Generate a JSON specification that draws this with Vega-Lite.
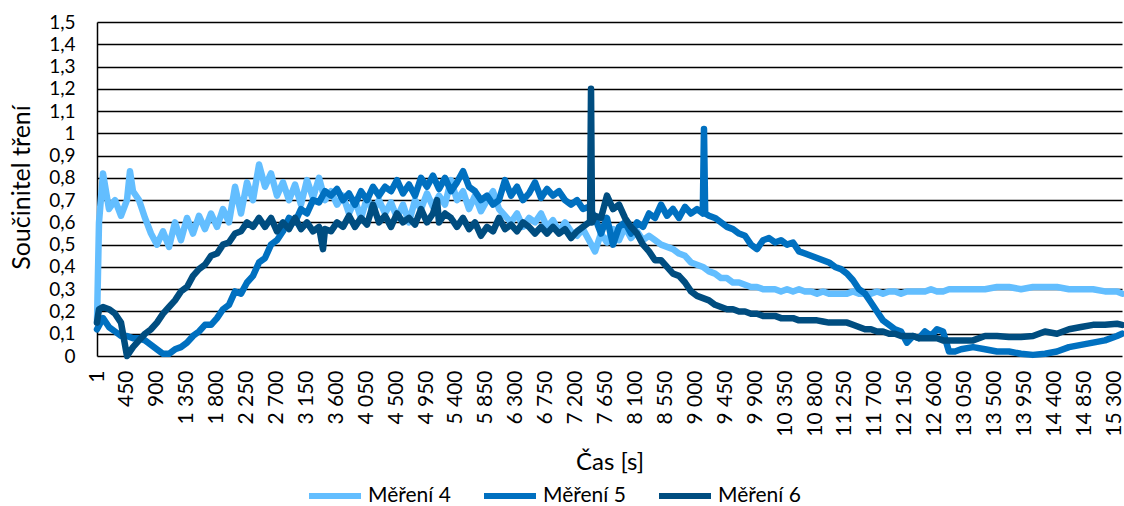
{
  "$schema": "https://vega.github.io/schema/vega-lite/v6.json",
  "width": 1025,
  "height": 334,
  "autosize": {"type": "none"},
  "padding": {"left": 97, "top": 22, "right": 2, "bottom": 150},
  "background": "white",
  "config": {"view": {"stroke": null}, "font": "Lato"},
  "data": {"values": [
    {"t":1,"a":0.15,"b":0.12,"c":0.15},
    {"t":31,"a":0.6,"c":0.21},
    {"t":91,"a":0.82,"b":0.17,"c":0.22},
    {"t":181,"a":0.66,"b":0.13,"c":0.21},
    {"t":272,"a":0.70,"b":0.11,"c":0.19},
    {"t":362,"a":0.63,"b":0.09,"c":0.15},
    {"t":452,"a":0.70,"b":0.09,"c":0.00},
    {"t":497,"a":0.83},
    {"t":542,"a":0.74,"b":0.08,"c":0.04},
    {"t":633,"a":0.70,"b":0.08,"c":0.07},
    {"t":723,"a":0.62,"b":0.07,"c":0.10},
    {"t":813,"a":0.55,"b":0.05,"c":0.12},
    {"t":903,"a":0.50,"b":0.03,"c":0.15},
    {"t":994,"a":0.56,"b":0.01,"c":0.19},
    {"t":1084,"a":0.49,"b":0.01,"c":0.22},
    {"t":1174,"a":0.60,"b":0.03,"c":0.25},
    {"t":1264,"a":0.52,"b":0.04,"c":0.29},
    {"t":1355,"a":0.62,"b":0.06,"c":0.31},
    {"t":1445,"a":0.55,"b":0.09,"c":0.36},
    {"t":1535,"a":0.63,"b":0.11,"c":0.39},
    {"t":1625,"a":0.57,"b":0.14,"c":0.41},
    {"t":1716,"a":0.64,"b":0.14,"c":0.45},
    {"t":1806,"a":0.58,"b":0.17,"c":0.46},
    {"t":1896,"a":0.66,"b":0.21,"c":0.50},
    {"t":1986,"a":0.60,"b":0.23,"c":0.51},
    {"t":2077,"a":0.76,"b":0.29,"c":0.55},
    {"t":2167,"a":0.64,"b":0.28,"c":0.56},
    {"t":2257,"a":0.78,"b":0.33,"c":0.60},
    {"t":2347,"a":0.70,"b":0.36,"c":0.58},
    {"t":2438,"a":0.86,"b":0.42,"c":0.62},
    {"t":2528,"a":0.76,"b":0.44,"c":0.58},
    {"t":2618,"a":0.82,"b":0.50,"c":0.62},
    {"t":2708,"a":0.72,"b":0.52,"c":0.56},
    {"t":2798,"a":0.78,"b":0.56,"c":0.60},
    {"t":2889,"a":0.70,"b":0.62,"c":0.57},
    {"t":2979,"a":0.77,"b":0.60,"c":0.62},
    {"t":3069,"a":0.68,"b":0.66,"c":0.57},
    {"t":3159,"a":0.79,"b":0.64,"c":0.60},
    {"t":3250,"a":0.71,"b":0.70,"c":0.56},
    {"t":3340,"a":0.80,"b":0.69,"c":0.58},
    {"t":3400,"c":0.48},
    {"t":3430,"a":0.70,"b":0.74,"c":0.57},
    {"t":3520,"a":0.74,"b":0.72,"c":0.56},
    {"t":3611,"a":0.68,"b":0.75,"c":0.60},
    {"t":3701,"a":0.72,"b":0.70,"c":0.58},
    {"t":3791,"a":0.64,"b":0.73,"c":0.63},
    {"t":3881,"a":0.70,"b":0.68,"c":0.58},
    {"t":3972,"a":0.62,"b":0.74,"c":0.62},
    {"t":4062,"a":0.71,"b":0.70,"c":0.59},
    {"t":4152,"a":0.65,"b":0.76,"c":0.68},
    {"t":4242,"a":0.70,"b":0.72,"c":0.60},
    {"t":4333,"a":0.64,"b":0.76,"c":0.63},
    {"t":4423,"a":0.69,"b":0.74,"c":0.58},
    {"t":4513,"a":0.62,"b":0.79,"c":0.64},
    {"t":4603,"a":0.68,"b":0.73,"c":0.60},
    {"t":4693,"a":0.60,"b":0.77,"c":0.62},
    {"t":4784,"a":0.70,"b":0.72,"c":0.59},
    {"t":4874,"a":0.66,"b":0.80,"c":0.66},
    {"t":4964,"a":0.73,"b":0.76,"c":0.60},
    {"t":5054,"a":0.67,"b":0.81,"c":0.64},
    {"t":5115,"c":0.70},
    {"t":5145,"a":0.72,"b":0.75,"c":0.60},
    {"t":5235,"a":0.68,"b":0.80,"c":0.64},
    {"t":5325,"a":0.79,"b":0.74,"c":0.62},
    {"t":5415,"a":0.70,"b":0.78,"c":0.58},
    {"t":5506,"a":0.74,"b":0.83,"c":0.62},
    {"t":5596,"a":0.66,"b":0.76,"c":0.57},
    {"t":5686,"a":0.72,"b":0.74,"c":0.60},
    {"t":5776,"a":0.65,"b":0.70,"c":0.54},
    {"t":5867,"a":0.70,"b":0.72,"c":0.58},
    {"t":5957,"a":0.74,"b":0.68,"c":0.56},
    {"t":6047,"a":0.66,"b":0.70,"c":0.62},
    {"t":6137,"a":0.63,"b":0.79,"c":0.57},
    {"t":6228,"a":0.60,"b":0.72,"c":0.59},
    {"t":6318,"a":0.64,"b":0.76,"c":0.56},
    {"t":6408,"a":0.58,"b":0.70,"c":0.60},
    {"t":6498,"a":0.62,"b":0.73,"c":0.58},
    {"t":6589,"a":0.60,"b":0.78,"c":0.55},
    {"t":6679,"a":0.64,"b":0.71,"c":0.58},
    {"t":6769,"a":0.58,"b":0.75,"c":0.55},
    {"t":6859,"a":0.61,"b":0.72,"c":0.58},
    {"t":6949,"a":0.56,"b":0.74,"c":0.55},
    {"t":7040,"a":0.60,"b":0.70,"c":0.57},
    {"t":7130,"a":0.56,"b":0.68,"c":0.53},
    {"t":7220,"a":0.54,"b":0.70,"c":0.56},
    {"t":7310,"a":0.57,"b":0.66,"c":0.58},
    {"t":7401,"a":0.52,"b":0.67,"c":0.60},
    {"t":7416,"c":0.60},
    {"t":7431,"c":1.20},
    {"t":7446,"c":0.60},
    {"t":7491,"a":0.47,"b":0.62,"c":0.63},
    {"t":7581,"a":0.55,"b":0.55,"c":0.62},
    {"t":7671,"a":0.51,"b":0.62,"c":0.72},
    {"t":7762,"a":0.57,"b":0.50,"c":0.66},
    {"t":7852,"a":0.52,"b":0.58,"c":0.68},
    {"t":7942,"a":0.58,"b":0.60,"c":0.62},
    {"t":8032,"a":0.53,"b":0.55,"c":0.58},
    {"t":8123,"a":0.56,"b":0.60,"c":0.55},
    {"t":8213,"a":0.52,"b":0.58,"c":0.50},
    {"t":8303,"a":0.54,"b":0.64,"c":0.47},
    {"t":8393,"a":0.52,"b":0.62,"c":0.43},
    {"t":8484,"a":0.50,"b":0.68,"c":0.43},
    {"t":8574,"a":0.49,"b":0.63,"c":0.40},
    {"t":8664,"a":0.48,"b":0.66,"c":0.37},
    {"t":8754,"a":0.46,"b":0.62,"c":0.36},
    {"t":8845,"a":0.45,"b":0.67,"c":0.33},
    {"t":8935,"a":0.42,"b":0.64,"c":0.29},
    {"t":9025,"a":0.41,"b":0.66,"c":0.27},
    {"t":9112,"b":0.64},
    {"t":9115,"a":0.40,"c":0.26},
    {"t":9130,"b":1.02},
    {"t":9148,"b":0.64},
    {"t":9205,"a":0.38,"b":0.63,"c":0.25},
    {"t":9296,"a":0.37,"b":0.62,"c":0.23},
    {"t":9386,"a":0.35,"b":0.60,"c":0.22},
    {"t":9476,"a":0.35,"b":0.58,"c":0.21},
    {"t":9566,"a":0.33,"b":0.57,"c":0.21},
    {"t":9657,"a":0.33,"b":0.55,"c":0.20},
    {"t":9747,"a":0.32,"b":0.54,"c":0.20},
    {"t":9837,"a":0.31,"b":0.50,"c":0.19},
    {"t":9927,"a":0.31,"b":0.48,"c":0.19},
    {"t":10018,"a":0.30,"b":0.52,"c":0.18},
    {"t":10108,"a":0.30,"b":0.53,"c":0.18},
    {"t":10198,"a":0.30,"b":0.51,"c":0.18},
    {"t":10288,"a":0.29,"b":0.52,"c":0.17},
    {"t":10379,"a":0.30,"b":0.50,"c":0.17},
    {"t":10469,"a":0.29,"b":0.51,"c":0.17},
    {"t":10559,"a":0.30,"b":0.47,"c":0.16},
    {"t":10649,"a":0.29,"b":0.46,"c":0.16},
    {"t":10740,"a":0.29,"b":0.45,"c":0.16},
    {"t":10830,"a":0.28,"b":0.44,"c":0.16},
    {"t":10920,"a":0.29,"b":0.43,"c":0.155},
    {"t":11010,"a":0.28,"b":0.42,"c":0.15},
    {"t":11101,"a":0.28,"b":0.40,"c":0.15},
    {"t":11191,"a":0.28,"b":0.39,"c":0.15},
    {"t":11281,"a":0.28,"b":0.37,"c":0.15},
    {"t":11371,"a":0.29,"b":0.34,"c":0.14},
    {"t":11461,"a":0.28,"b":0.30,"c":0.13},
    {"t":11552,"a":0.28,"b":0.28,"c":0.12},
    {"t":11642,"a":0.28,"b":0.24,"c":0.12},
    {"t":11732,"a":0.29,"b":0.20,"c":0.11},
    {"t":11822,"a":0.28,"b":0.16,"c":0.11},
    {"t":11913,"a":0.29,"b":0.14,"c":0.10},
    {"t":12003,"a":0.29,"b":0.12,"c":0.10},
    {"t":12093,"a":0.28,"b":0.11,"c":0.09},
    {"t":12183,"a":0.29,"b":0.06,"c":0.09},
    {"t":12274,"a":0.29,"b":0.09,"c":0.09},
    {"t":12364,"a":0.29,"b":0.08,"c":0.08},
    {"t":12454,"a":0.29,"b":0.11,"c":0.08},
    {"t":12544,"a":0.30,"b":0.09,"c":0.08},
    {"t":12635,"a":0.29,"b":0.12,"c":0.08},
    {"t":12725,"a":0.29,"b":0.11,"c":0.07},
    {"t":12815,"a":0.30,"b":0.02,"c":0.07},
    {"t":12905,"a":0.30,"b":0.02,"c":0.07},
    {"t":12996,"a":0.30,"b":0.03,"c":0.07},
    {"t":13176,"a":0.30,"b":0.04,"c":0.07},
    {"t":13357,"a":0.30,"b":0.03,"c":0.09},
    {"t":13537,"a":0.31,"b":0.02,"c":0.09},
    {"t":13717,"a":0.31,"b":0.02,"c":0.085},
    {"t":13898,"a":0.30,"b":0.01,"c":0.085},
    {"t":14078,"a":0.31,"b":0.005,"c":0.09},
    {"t":14259,"a":0.31,"b":0.01,"c":0.11},
    {"t":14439,"a":0.31,"b":0.02,"c":0.10},
    {"t":14620,"a":0.30,"b":0.04,"c":0.12},
    {"t":14800,"a":0.30,"b":0.05,"c":0.13},
    {"t":14981,"a":0.30,"b":0.06,"c":0.14},
    {"t":15161,"a":0.29,"b":0.07,"c":0.14},
    {"t":15342,"a":0.29,"b":0.09,"c":0.145},
    {"t":15417,"a":0.28,"b":0.10,"c":0.14}
  ]},
  "transform": [
    {"fold": ["a", "b", "c"], "as": ["serie", "v"]},
    {"filter": "isValid(datum.v)"}
  ],
  "mark": {"type": "line", "strokeWidth": 6.5, "strokeCap": "round", "strokeJoin": "round"},
  "encoding": {
    "x": {
      "field": "t", "type": "quantitative",
      "scale": {"domain": [1, 15417], "nice": false, "zero": false},
      "axis": {
        "values": [1,450,900,1350,1800,2250,2700,3150,3600,4050,4500,4950,5400,5850,6300,6750,7200,7650,8100,8550,9000,9450,9900,10350,10800,11250,11700,12150,12600,13050,13500,13950,14400,14850,15300],
        "labelExpr": "replace(format(datum.value, ','), ',', ' ')",
        "labelAngle": -90,
        "labelAlign": "right",
        "labelBaseline": "middle",
        "labelPadding": 14,
        "labelFont": "Lato",
        "labelFontSize": 21,
        "labelColor": "#000000",
        "labelOverlap": false,
        "labelFlush": false,
        "labelBound": false,
        "domain": false,
        "ticks": false,
        "grid": false,
        "title": "Čas [s]",
        "titleFont": "Lato",
        "titleFontSize": 24,
        "titleFontWeight": "normal",
        "titleColor": "#000000",
        "titleBaseline": "middle",
        "titleY": 106
      }
    },
    "y": {
      "field": "v", "type": "quantitative",
      "scale": {"domain": [0, 1.5], "nice": false},
      "axis": {
        "values": [0,0.1,0.2,0.3,0.4,0.5,0.6,0.7,0.8,0.9,1,1.1,1.2,1.3,1.4,1.5],
        "labelExpr": "replace(format(datum.value, '.1~f'), '.', ',')",
        "labelFont": "Lato",
        "labelFontSize": 19,
        "labelColor": "#000000",
        "labelPadding": 22,
        "domain": true,
        "domainColor": "#000000",
        "domainWidth": 1.5,
        "ticks": false,
        "grid": true,
        "gridColor": "#000000",
        "gridWidth": 1.3,
        "gridOpacity": 1,
        "title": "Součinitel tření",
        "titleFont": "Lato",
        "titleFontSize": 25,
        "titleFontWeight": "normal",
        "titleColor": "#000000",
        "titleAlign": "center",
        "titleBaseline": "middle",
        "titleAngle": -90,
        "titleX": -76,
        "titleY": 165
      }
    },
    "color": {
      "field": "serie", "type": "nominal",
      "scale": {"domain": ["a", "b", "c"], "range": ["#63BEFF", "#0070C0", "#004D80"]},
      "legend": {
        "orient": "none",
        "legendX": 209,
        "legendY": 445,
        "direction": "horizontal",
        "title": null,
        "symbolType": "stroke",
        "symbolSize": 2704,
        "symbolStrokeWidth": 6,
        "labelExpr": "datum.label == 'a' ? 'Měření 4' : datum.label == 'b' ? 'Měření 5' : 'Měření 6'",
        "labelFont": "Lato",
        "labelFontSize": 21,
        "labelColor": "#000000",
        "labelOffset": 4,
        "columnPadding": 21
      }
    }
  }
}
